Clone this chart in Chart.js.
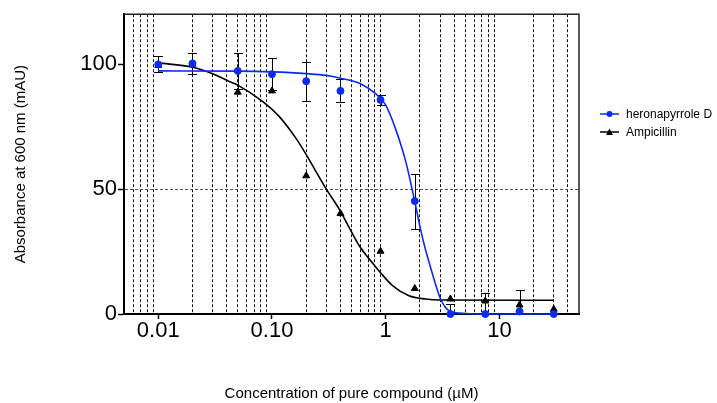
<!DOCTYPE html>
<html>
<head>
<meta charset="utf-8">
<script src="https://cdn.jsdelivr.net/npm/chart.js@4.4.1/dist/chart.umd.min.js"></script>
<style>
  html, body { margin: 0; padding: 0; background: #fff; }
  #wrap { position: relative; width: 717px; height: 403px; font-family: "Liberation Sans", Arial, sans-serif; }
  #legend { position: absolute; left: 600px; top: 105px; font-size: 12px; color: #000; }
  .row { display: flex; align-items: center; height: 18px; white-space: nowrap; }
  .row svg { margin-right: 7px; }
</style>
</head>
<body>
<div id="wrap">
  <canvas id="chart" width="717" height="403"></canvas>
  <div id="legend">
    <div class="row"><svg width="19" height="10"><line x1="0" y1="5" x2="19" y2="5" stroke="#0a2cf0" stroke-width="1.5"/><circle cx="9.5" cy="5" r="3" fill="#0a2cf0"/></svg>heronapyrrole D</div>
    <div class="row"><svg width="19" height="10"><line x1="0" y1="5" x2="19" y2="5" stroke="#000" stroke-width="1.5"/><polygon points="9.5,1.5 13,8 6,8" fill="#000"/></svg>Ampicillin</div>
  </div>
</div>
<script>
// measured points (concentration in µM, absorbance in mAU)
const concentrations = [0.01, 0.02, 0.05, 0.1, 0.2, 0.4, 0.9, 1.8, 3.7, 7.5, 15, 30];
const heronapyrroleD = [99.9, 100.3, 97.3, 96.0, 93.2, 89.3, 85.7, 45.2, 0, 0, 1, 0];
const heronapyrroleDErr = [3.2, 4.3, 7.2, 6.5, 7.8, 4.6, 2, 11, 4.2, 8.5, 0, 0];
const ampicillin = [99.5, 100, 88.8, 89.3, 55.3, 40.2, 25.1, 10.2, 6, 5.2, 3.6, 1.9];
const ampicillinErr = [0, 0, 0, 0, 0, 0, 0, 0, 0, 0, 6.2, 0];

// fitted curves
const heronFitX = [0.01, 0.05, 0.1, 0.2, 0.3, 0.4, 0.6, 0.8, 0.9, 1.0, 1.2, 1.5, 1.8, 2.0, 2.2, 2.5, 2.8, 3.0, 3.35, 3.7, 4.1, 5, 7.5, 30];
const heronFitY = [97.3, 97.2, 96.9, 96.2, 95.5, 94.4, 92.2, 88.5, 86.2, 83.6, 75, 61, 45, 35, 27, 18, 10.5, 6.5, 2.6, 1.0, 0.5, 0.2, 0, 0];
const ampFitX = [0.01, 0.02, 0.03, 0.042, 0.05, 0.083, 0.116, 0.162, 0.2, 0.243, 0.3, 0.39, 0.476, 0.583, 0.714, 0.9, 1.14, 1.6, 2.24, 3, 30];
const ampFitY = [100.5, 98.8, 96.2, 93.1, 91.6, 85, 79, 70.4, 63.8, 57.1, 50, 42, 34.7, 27.4, 22.1, 16.5, 11.5, 7.3, 6.0, 5.6, 5.5];

// axis ticks
const xMajorTicks = [0.01, 0.1, 1, 10];
const xMajorLabels = ['0.01', '0.10', '1', '10'];
const xMinorTicks = [0.006, 0.007, 0.008, 0.009,
  0.02, 0.03, 0.04, 0.05, 0.06, 0.07, 0.08, 0.09,
  0.2, 0.3, 0.4, 0.5, 0.6, 0.7, 0.8, 0.9,
  2, 3, 4, 5, 6, 7, 8, 9,
  20, 30, 40];
const yTicks = [0, 50, 100];

const blue = '#0a2cf0';
const fontFamily = '"Liberation Sans", Arial, sans-serif';

function toPoints(xs, ys) {
  return xs.map((x, i) => ({x: x, y: ys[i]}));
}

// error bars drawn under the markers
const errorBars = {
  id: 'errorBars',
  beforeDatasetsDraw(chart) {
    const {ctx, chartArea, scales} = chart;
    ctx.save();
    ctx.beginPath();
    ctx.rect(chartArea.left, chartArea.top, chartArea.right - chartArea.left, chartArea.bottom - chartArea.top);
    ctx.clip();
    ctx.strokeStyle = '#000';
    ctx.lineWidth = 1;
    [[heronapyrroleD, heronapyrroleDErr], [ampicillin, ampicillinErr]].forEach(pair => {
      const means = pair[0], errs = pair[1];
      concentrations.forEach((c, i) => {
        if (!errs[i]) return;
        const px = Math.round(scales.x.getPixelForValue(c)) + 0.5;
        const top = Math.round(scales.y.getPixelForValue(means[i] + errs[i])) + 0.5;
        const bot = Math.round(scales.y.getPixelForValue(means[i] - errs[i])) + 0.5;
        ctx.beginPath();
        ctx.moveTo(px, top); ctx.lineTo(px, bot);
        ctx.moveTo(px - 4.5, top); ctx.lineTo(px + 4.5, top);
        ctx.moveTo(px - 4.5, bot); ctx.lineTo(px + 4.5, bot);
        ctx.stroke();
      });
    });
    ctx.restore();
  }
};

// closes the box on top and right
const frame = {
  id: 'frame',
  afterDraw(chart) {
    const {ctx, chartArea} = chart;
    ctx.save();
    ctx.strokeStyle = '#222';
    ctx.lineWidth = 1.5;
    ctx.beginPath();
    ctx.moveTo(chartArea.left, chartArea.top);
    ctx.lineTo(chartArea.right, chartArea.top);
    ctx.lineTo(chartArea.right, chartArea.bottom);
    ctx.stroke();
    ctx.restore();
  }
};

new Chart(document.getElementById('chart'), {
  type: 'scatter',
  data: {
    datasets: [
      {
        label: 'heronapyrrole D',
        data: toPoints(concentrations, heronapyrroleD),
        pointStyle: 'circle', pointRadius: 3.5,
        backgroundColor: blue, borderColor: blue,
        clip: 8, order: 0
      },
      {
        label: 'Ampicillin',
        data: toPoints(concentrations, ampicillin),
        pointStyle: 'triangle', pointRadius: 4,
        backgroundColor: '#000', borderColor: '#000',
        clip: 8, order: 1
      },
      {
        label: 'heronapyrrole D fit',
        data: toPoints(heronFitX, heronFitY),
        showLine: true, pointRadius: 0,
        borderColor: blue, borderWidth: 1.6,
        cubicInterpolationMode: 'monotone',
        clip: 4, order: 2
      },
      {
        label: 'Ampicillin fit',
        data: toPoints(ampFitX, ampFitY),
        showLine: true, pointRadius: 0,
        borderColor: '#000', borderWidth: 1.6,
        cubicInterpolationMode: 'monotone',
        clip: 4, order: 3
      }
    ]
  },
  options: {
    responsive: false,
    animation: false,
    layout: { padding: { left: 0, right: 138, top: 11, bottom: 0 } },
    plugins: {
      legend: { display: false },
      tooltip: { enabled: false }
    },
    scales: {
      x: {
        type: 'logarithmic',
        min: 0.005, max: 50,
        afterBuildTicks: s => {
          s.ticks = xMinorTicks.concat(xMajorTicks).sort((a, b) => a - b).map(v => ({value: v}));
        },
        afterFit: s => { s.height = 89; },
        ticks: {
          autoSkip: false, maxRotation: 0, padding: 1, color: '#000',
          font: { family: fontFamily, size: 22, lineHeight: 1 },
          callback: v => {
            const i = xMajorTicks.indexOf(v);
            return i < 0 ? '' : xMajorLabels[i];
          }
        },
        grid: {
          color: c => (c.tick && xMajorTicks.includes(c.tick.value)) ? 'transparent' : '#111',
          tickColor: c => (c.tick && xMajorTicks.includes(c.tick.value)) ? '#000' : 'transparent',
          tickLength: 5, tickWidth: 1.5, lineWidth: 1
        },
        border: { display: true, color: '#000', width: 2, dash: [3, 2] },
        title: {
          display: true, text: 'Concentration of pure compound (µM)', color: '#000',
          font: { family: fontFamily, size: 15 },
          padding: { top: 0, bottom: 0 }
        }
      },
      y: {
        min: 0, max: 120,
        afterBuildTicks: s => { s.ticks = yTicks.map(v => ({value: v})); },
        afterFit: s => { s.width = 124; },
        ticks: {
          padding: 1, color: '#000',
          font: { family: fontFamily, size: 22 }
        },
        grid: {
          color: c => (c.tick && c.tick.value === 50) ? '#555' : 'transparent',
          tickColor: '#000', tickLength: 6, tickWidth: 1.5, lineWidth: 1
        },
        border: { display: true, color: '#000', width: 2, dash: [3, 2] },
        title: {
          display: true, text: 'Absorbance at 600 nm (mAU)', color: '#000',
          font: { family: fontFamily, size: 15 },
          padding: { top: 12, bottom: 0 }
        }
      }
    }
  },
  plugins: [errorBars, frame]
});
</script>
</body>
</html>
